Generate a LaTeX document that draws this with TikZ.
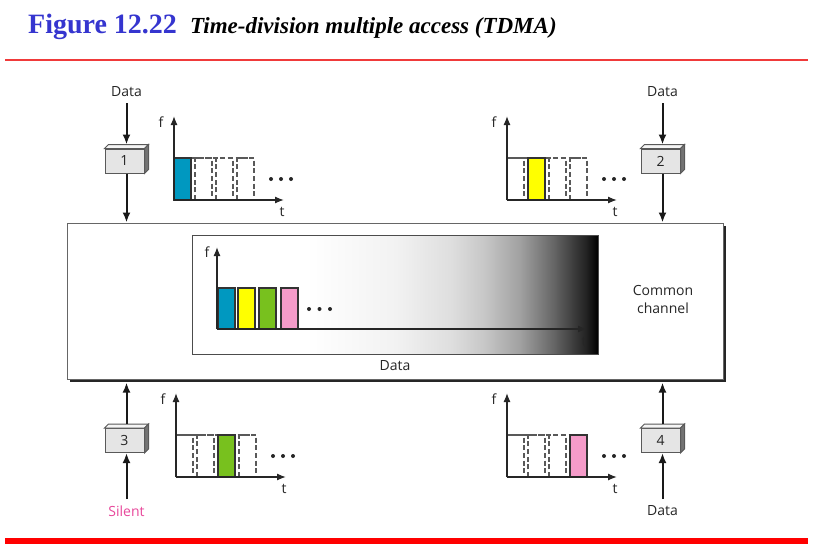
\documentclass[tikz,border=0pt]{standalone}
\usepackage{fontspec}
\setmainfont{Liberation Serif}
\newfontfamily\labfont{Open Sans}
\usetikzlibrary{arrows.meta,calc,shadows}
\definecolor{titleblue}{HTML}{3535CF}
\definecolor{rulered}{HTML}{F03A3A}
\definecolor{slotblue}{HTML}{0098C0}
\definecolor{slotyellow}{HTML}{FFFF00}
\definecolor{slotgreen}{HTML}{78C11E}
\definecolor{slotpink}{HTML}{F59BC9}
\definecolor{silentpink}{HTML}{E8489B}
\pgfdeclarehorizontalshading{chshade}{100bp}{color(0bp)=(white); color(39bp)=(white); color(50bp)=(black!5); color(57bp)=(black!13); color(61bp)=(black!22); color(65.4bp)=(black!37); color(69.5bp)=(black!60); color(73.6bp)=(black!87); color(75bp)=(black); color(100bp)=(black)}
\tikzset{
  lbl/.style={font=\labfont\fontsize{14}{16}\selectfont, text=black!85, inner sep=0pt},
  stbox/.style={draw=black!65, line width=1pt, fill=black!10, minimum width=39pt, minimum height=24pt, inner sep=0pt, font=\labfont\fontsize{14}{16}\selectfont, text=black!85},
  bigarr/.style={draw=black!90, line width=2pt, -{Latex[length=10pt,width=8pt]}},
  axarr/.style={draw=black!85, line width=1.3pt, -{Latex[length=9pt,width=7pt]}},
  dslot/.style={draw=black!65, line width=1.2pt, dash pattern=on 5pt off 2.7pt},
  barstyle/.style={draw=black!80, line width=1.2pt},
}
\newcommand\cubefaces[1]{%
  \path[fill=black!4, draw=black!65, line width=1pt] (#1.north west) -- ++(4,-4) -- ($(#1.north east)+(4,-4)$) -- (#1.north east) -- cycle;
  \path[fill=black!55, draw=black!65, line width=1pt] (#1.north east) -- ++(4,-4) -- ($(#1.south east)+(4,-4)$) -- (#1.south east) -- cycle;}
\newcommand\tgraph[4]{%
  \begin{scope}[shift={(#1,#2)}]
    \draw[dslot] (0,-42) -- (80,-42);
    \foreach \k in {0,...,3} {\draw[dslot] (\k*21,0) rectangle ++(17,-42);}
    \draw[barstyle, fill=#4] (#3*21,0) rectangle ++(17,-42);
    \draw[axarr] (0,0) -- (0,-84);
    \draw[axarr] (0,0) -- (110,0);
    \node[lbl] at (-13,-78) {f};
    \node[lbl] at (108,12) {t};
    \foreach \k in {0,1,2} {\fill[black!85] (97+\k*10,-21) circle (2);}
  \end{scope}}
\begin{document}
\begin{tikzpicture}[x=1pt,y=-1pt]
\useasboundingbox (0,0) rectangle (820,546);
\fill[white] (0,0) rectangle (820,546);
% title
\node[anchor=base west, inner sep=0pt, text=titleblue, font=\fontsize{28}{28}\selectfont\bfseries] (fig) at (28,34) {Figure 12.22};
\node[anchor=base west, inner sep=0pt, font=\fontsize{23}{23}\selectfont\bfseries\itshape] (cap) at (190,34) {Time-division multiple access (TDMA)};
\draw[rulered, line width=2pt] (5,60) -- (808,60);
\draw[red, line width=6pt] (5,541) -- (808,541);
% main channel
\node[draw=black!60, line width=1pt, fill=white, minimum width=656pt, minimum height=156pt, inner sep=0pt,
      drop shadow={shadow xshift=3pt, shadow yshift=-3pt, opacity=1, fill=black!85}] (ch) at (395,301) {};
\shade[shading=chshade] (192,235) rectangle (598,354);
\draw[black!70, line width=1pt] (192,235) rectangle (598,354);
\begin{scope}[shift={(217,329)}]
  \draw[barstyle, fill=slotblue] (1,0) rectangle ++(17,-41);
  \draw[barstyle, fill=slotyellow] (21,0) rectangle ++(17,-41);
  \draw[barstyle, fill=slotgreen] (42,0) rectangle ++(17,-41);
  \draw[barstyle, fill=slotpink] (64,0) rectangle ++(17,-41);
  \draw[axarr] (0,0) -- (0,-82);
  \draw[axarr] (0,0) -- (370,0);
  \node[lbl] at (-10,-77) {f};
  \node[lbl] at (367,13) {t};
  \foreach \k in {0,1,2} {\fill[black!85] (92+\k*10.5,-20) circle (2);}
\end{scope}
\node[lbl] (chdata) at (395,366) {Data};
\node[lbl, align=center, font=\labfont\fontsize{14}{18}\selectfont] (chlab) at (663,299) {Common\\channel};
% stations
\node[stbox] (s1) at (124.5,161) {1};
\cubefaces{s1}
\node[stbox] (s2) at (660.5,161) {2};
\cubefaces{s2}
\node[stbox] (s3) at (124.5,440.5) {3};
\cubefaces{s3}
\node[stbox] (s4) at (660.5,440.5) {4};
\cubefaces{s4}
\node[lbl] (d1) at (126.5,92) {Data};
\node[lbl] (d2) at (662.5,92) {Data};
\node[lbl, text=silentpink] (d3) at (126.5,511) {Silent};
\node[lbl] (d4) at (662.5,511) {Data};
\coordinate (t1) at ($(s1.north)+(2,-4)$);
\coordinate (t2) at ($(s2.north)+(2,-4)$);
\coordinate (t3) at ($(s3.north)+(2,-4)$);
\coordinate (t4) at ($(s4.north)+(2,-4)$);
\coordinate (b1) at ($(s1.south)+(2,0)$);
\coordinate (b2) at ($(s2.south)+(2,0)$);
\coordinate (b3) at ($(s3.south)+(2,0)$);
\coordinate (b4) at ($(s4.south)+(2,0)$);
\coordinate (a1) at (126.5,103);
\coordinate (a2) at (662.5,103);
\coordinate (a3) at (126.5,499);
\coordinate (a4) at (662.5,499);
\draw[bigarr] (a1) -- (t1);
\draw[bigarr] (a2) -- (t2);
\draw[bigarr] (b1) -- (b1 |- ch.north);
\draw[bigarr] (b2) -- (b2 |- ch.north);
\draw[bigarr] (a3) -- (b3);
\draw[bigarr] (a4) -- (b4);
\coordinate (c3) at ($(t3 |- ch.south)+(0,3)$);
\coordinate (c4) at ($(t4 |- ch.south)+(0,3)$);
\draw[bigarr] (t3) -- (c3);
\draw[bigarr] (t4) -- (c4);
% slot graphs
\tgraph{174}{200}{0}{slotblue}
\tgraph{507}{200}{1}{slotyellow}
\tgraph{176}{477}{2}{slotgreen}
\tgraph{507}{477}{3}{slotpink}
\end{tikzpicture}
\end{document}
